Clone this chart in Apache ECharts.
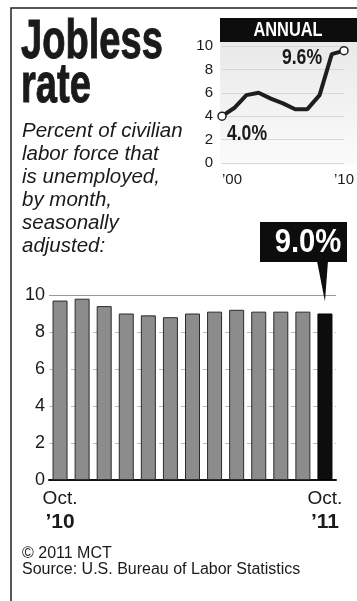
<!DOCTYPE html>
<html>
<head>
<meta charset="utf-8">
<script src="https://cdn.jsdelivr.net/npm/echarts@6/dist/echarts.min.js"></script>
<style>
  html, body { margin: 0; padding: 0; background: #fff; }
  #main { width: 357px; height: 601px; }
</style>
</head>
<body>
<div id="main"></div>
<script>
// annual averages, 2000-2010
const years = ['2000', '2001', '2002', '2003', '2004', '2005', '2006', '2007', '2008', '2009', '2010'];
const annualRate = [4.0, 4.7, 5.8, 6.0, 5.5, 5.1, 4.6, 4.6, 5.8, 9.3, 9.6];
const yearLabels = { 0: '’00', 10: '’10' };

// monthly, Oct 2010 - Oct 2011
const months = ['Oct.', 'Nov.', 'Dec.', 'Jan.', 'Feb.', 'Mar.', 'Apr.', 'May', 'June', 'July', 'Aug.', 'Sep.', 'Oct.'];
const monthYears = ['’10', '’10', '’10', '’11', '’11', '’11', '’11', '’11', '’11', '’11', '’11', '’11', '’11'];
const monthlyRate = [9.7, 9.8, 9.4, 9.0, 8.9, 8.8, 9.0, 9.1, 9.2, 9.1, 9.1, 9.1, 9.0];

const subtitle = ['Percent of civilian', 'labor force that', 'is unemployed,', 'by month,', 'seasonally', 'adjusted:'];

const SANS = '"Liberation Sans", Arial, sans-serif';
const INK = '#1a1a1a';

const chart = echarts.init(document.getElementById('main'));

const lastYear = annualRate.length - 1;
const lineData = annualRate.map((v, i) =>
  (i === 0 || i === lastYear) ? { value: v, symbol: 'circle' } : { value: v, symbol: 'none' });

const lastMonth = monthlyRate.length - 1;
const barData = monthlyRate.map((v, i) => i === lastMonth
  ? { value: v, itemStyle: { color: '#0d0d0d', borderColor: '#000' } }
  : v);

// condensed bold text: no narrow face installed, so squeeze a bold one
function heavy(text, x, y, size, sx, fill, align, extra) {
  return Object.assign({
    type: 'text', x: x, y: y, scaleX: sx,
    style: { text: text, font: 'bold ' + size + 'px ' + SANS, fill: fill, align: align || 'left', verticalAlign: 'middle' }
  }, extra || {});
}

const staticGraphics = [
  // frame
  { type: 'polyline', shape: { points: [[11, 601], [11, 8], [357, 8]] }, style: { stroke: '#222', lineWidth: 1.5, fill: null } },
  // title
  heavy('Jobless', 21, 43, 56, 0.68, INK),
  heavy('rate', 21, 87, 56, 0.68, INK),
  // inset background + header
  { type: 'rect', z: -10, shape: { x: 220, y: 42, width: 137, height: 123 },
    style: { fill: new echarts.graphic.LinearGradient(0, 0, 0, 1, [{ offset: 0, color: '#e9e9e9' }, { offset: 1, color: '#fbfbfb' }]) } },
  { type: 'rect', shape: { x: 220, y: 18, width: 137, height: 24 }, style: { fill: '#0d0d0d' } },
  heavy('ANNUAL', 288, 30, 21, 0.78, '#fff', 'center'),
  // footer
  { type: 'text', x: 22, y: 554, style: { text: '© 2011 MCT', font: '16px ' + SANS, fill: INK, verticalAlign: 'middle' } },
  { type: 'text', x: 22, y: 570, style: { text: 'Source: U.S. Bureau of Labor Statistics', font: '16px ' + SANS, fill: INK, verticalAlign: 'middle' } }
];
staticGraphics[1].style.stroke = INK; staticGraphics[1].style.lineWidth = 1;
staticGraphics[2].style.stroke = INK; staticGraphics[2].style.lineWidth = 1;

subtitle.forEach((line, i) => {
  staticGraphics.push({
    type: 'text', x: 22, y: 131 + i * 23,
    style: { text: line, font: 'italic 20.5px ' + SANS, fill: INK, verticalAlign: 'middle' }
  });
});

chart.setOption({
  animation: false,
  backgroundColor: '#fff',
  grid: [
    { left: 222, right: 5, top: 46, bottom: 438 },
    { left: 49, right: 21, top: 295, bottom: 121 }
  ],
  xAxis: [
    {
      gridIndex: 0, type: 'category', data: years, boundaryGap: false,
      axisLine: { show: false }, axisTick: { show: false },
      axisLabel: {
        interval: 0, margin: 9, color: INK, fontSize: 15, fontFamily: SANS,
        formatter: (v, i) => yearLabels[i] || '',
        alignMinLabel: 'left', alignMaxLabel: 'center'
      },
      splitLine: { show: false }
    },
    {
      gridIndex: 1, type: 'category', data: months,
      axisLine: { show: true, lineStyle: { color: '#111', width: 2 } },
      axisTick: { show: false },
      axisLabel: {
        interval: 0, margin: 8, color: INK,
        formatter: (v, i) => (i === 0 || i === lastMonth) ? `{m|${v}}\n{y|${monthYears[i]}}` : '',
        rich: {
          m: { fontSize: 19, fontFamily: SANS, lineHeight: 22, color: INK },
          y: { fontSize: 21, fontWeight: 'bold', fontFamily: SANS, lineHeight: 25, color: INK }
        }
      }
    }
  ],
  yAxis: [
    {
      gridIndex: 0, type: 'value', min: 0, max: 10, interval: 2,
      axisLine: { show: false }, axisTick: { show: false },
      axisLabel: { margin: 9, color: INK, fontSize: 15, fontFamily: SANS },
      splitLine: { lineStyle: { color: '#d6d6d6', width: 1 } }
    },
    {
      gridIndex: 1, type: 'value', min: 0, max: 10, interval: 2,
      axisLine: { show: false }, axisTick: { show: false },
      axisLabel: { margin: 4, color: INK, fontSize: 18, fontFamily: SANS },
      splitLine: { lineStyle: { color: '#bdbdbd', width: 1, type: [5, 6] } }
    }
  ],
  series: [
    {
      type: 'line', xAxisIndex: 0, yAxisIndex: 0, data: lineData,
      symbolSize: 8, showSymbol: true,
      lineStyle: { color: '#1e1e1e', width: 4 },
      itemStyle: { color: '#fff', borderColor: '#222', borderWidth: 1.5 },
      z: 5
    },
    {
      type: 'bar', xAxisIndex: 1, yAxisIndex: 1, data: barData,
      barWidth: 15,
      itemStyle: { color: '#8c8c8c', borderColor: '#2b2b2b', borderWidth: 1 },
      markLine: {
        silent: true, symbol: 'none', label: { show: false },
        lineStyle: { color: '#9a9a9a', type: 'solid', width: 1 },
        data: [{ yAxis: 10 }]
      }
    }
  ],
  graphic: staticGraphics
});

// end-point labels of the annual line and the callout on the latest bar
const pct = v => v.toFixed(1) + '%';
const p0 = chart.convertToPixel({ xAxisIndex: 0, yAxisIndex: 0 }, [0, annualRate[0]]);
const p1 = chart.convertToPixel({ xAxisIndex: 0, yAxisIndex: 0 }, [lastYear, annualRate[lastYear]]);
const tip = chart.convertToPixel({ xAxisIndex: 1, yAxisIndex: 1 }, [lastMonth, monthlyRate[lastMonth]]);

chart.setOption({
  graphic: staticGraphics.concat([
    heavy(pct(annualRate[0]), p0[0] + 25, p0[1] + 18, 22, 0.8, INK, 'center', { z: 20 }),
    heavy(pct(annualRate[lastYear]), p1[0] - 42, p1[1] + 7, 22, 0.8, INK, 'center', { z: 20 }),
    { type: 'rect', z: 50, shape: { x: 260, y: 222, width: 87, height: 40 }, style: { fill: '#0d0d0d' } },
    { type: 'polygon', z: 50, shape: { points: [[317, 261], [328, 261], [tip[0], tip[1] - 12]] }, style: { fill: '#0d0d0d' } },
    heavy(pct(monthlyRate[lastMonth]), 308, 243, 34, 0.86, '#fff', 'center', { z: 51 })
  ])
});
</script>
</body>
</html>
